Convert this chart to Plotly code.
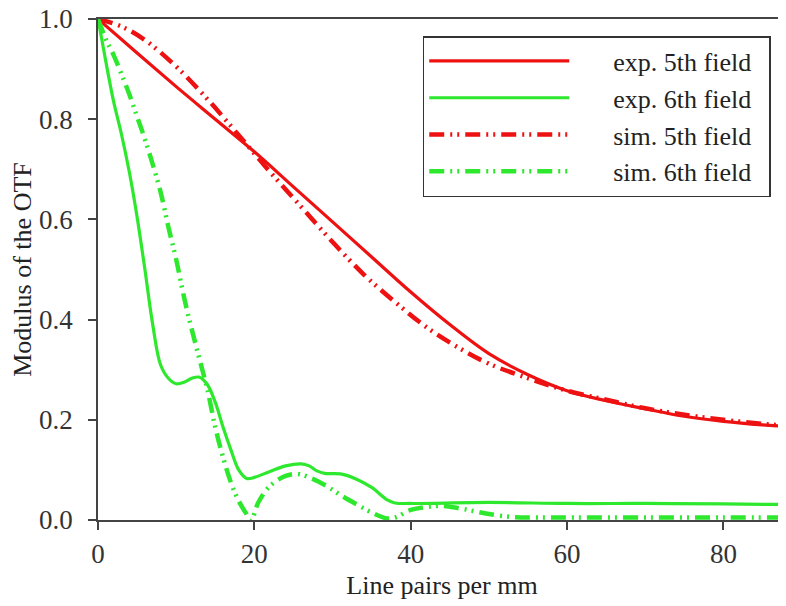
import plotly.graph_objects as go

# ---- data ----
exp5_x = [0, 5, 10, 15, 20, 25, 30, 35, 40, 45, 50, 55, 60, 65, 70, 75, 80, 85, 88]
exp5_y = [1.0, 0.932, 0.865, 0.80, 0.735, 0.665, 0.595, 0.525, 0.455, 0.39, 0.332, 0.29, 0.258, 0.238, 0.222, 0.207, 0.197, 0.19, 0.187]

sim5_x = [0, 3, 6, 10, 14, 18, 22, 26, 30, 34, 38, 42, 46, 50, 55, 60, 65, 70, 75, 80, 85, 88]
sim5_y = [1.0, 0.985, 0.958, 0.905, 0.84, 0.768, 0.695, 0.625, 0.555, 0.49, 0.435, 0.385, 0.345, 0.312, 0.283, 0.258, 0.24, 0.223, 0.21, 0.2, 0.192, 0.188]

exp6_x = [0, 0.5, 1, 2, 3, 4, 5, 6, 7, 8, 9, 10, 11, 12, 13, 14, 15, 16, 17, 18, 19, 20, 22, 24, 26, 27, 28, 29, 31, 33, 35, 37, 38, 40, 50, 60, 70, 80, 88]
exp6_y = [1.0, 0.958, 0.915, 0.835, 0.77, 0.695, 0.605, 0.50, 0.39, 0.31, 0.283, 0.272, 0.275, 0.283, 0.285, 0.27, 0.235, 0.185, 0.14, 0.10, 0.083, 0.085, 0.097, 0.108, 0.112, 0.108, 0.098, 0.093, 0.092, 0.082, 0.065, 0.04, 0.034, 0.033, 0.035, 0.033, 0.033, 0.032, 0.031]

sim6_x = [0, 1, 2, 3, 4, 5, 6, 7, 8, 9, 10, 11, 12, 13, 14, 15, 16, 17, 18, 19, 19.6, 20.5, 22, 24, 25.5, 27, 29, 31, 33, 35, 37, 38, 40, 42, 44, 46, 48, 50, 53, 56, 60, 70, 80, 88]
sim6_y = [1.0, 0.96, 0.928, 0.89, 0.85, 0.805, 0.76, 0.71, 0.655, 0.585, 0.52, 0.445, 0.38, 0.32, 0.26, 0.185, 0.125, 0.075, 0.038, 0.012, 0.0, 0.035, 0.068, 0.088, 0.092, 0.085, 0.07, 0.05, 0.032, 0.015, 0.003, 0.005, 0.02, 0.026, 0.028, 0.024, 0.018, 0.012, 0.006, 0.005, 0.005, 0.005, 0.005, 0.005]

names = ["exp. 5th field", "exp. 6th field", "sim. 5th field", "sim. 6th field"]
x_ticks = [0, 20, 40, 60, 80]
y_ticks = [0.0, 0.2, 0.4, 0.6, 0.8, 1.0]
y_tick_text = ["0.0", "0.2", "0.4", "0.6", "0.8", "1.0"]

RED = "#ee1111"
GREEN = "#2ee82e"
DASH = "15px,6px,2px,5px,2px,6px"
FONT = "Liberation Serif"
GAP = "\u00a0" * 6  # spacing between legend sample line and its label
END = "\u00a0\u00a0"


def label(n):
    return GAP + n + END


fig = go.Figure()
fig.add_trace(go.Scatter(x=exp5_x, y=exp5_y, mode="lines", name=label(names[0]),
                         line=dict(color=RED, width=3.2, shape="spline")))
fig.add_trace(go.Scatter(x=exp6_x, y=exp6_y, mode="lines", name=label(names[1]),
                         line=dict(color=GREEN, width=3.2, shape="spline")))
fig.add_trace(go.Scatter(x=sim5_x, y=sim5_y, mode="lines", name=label(names[2]),
                         line=dict(color=RED, width=4.5, dash=DASH, shape="spline")))
fig.add_trace(go.Scatter(x=sim6_x, y=sim6_y, mode="lines", name=label(names[3]),
                         line=dict(color=GREEN, width=4.5, dash=DASH, shape="spline")))

# the page body adds an 8px offset, so the figure is 8px smaller than the window
fig.update_layout(
    width=778, height=598,
    margin=dict(l=90, r=0, t=11, b=86),
    paper_bgcolor="white", plot_bgcolor="white",
    font=dict(family=FONT, size=26, color="#222"),
    showlegend=True,
    legend=dict(x=0.472, y=0.966, xanchor="left", yanchor="top",
                bgcolor="white", bordercolor="#333", borderwidth=1.5,
                font=dict(family=FONT, size=26, color="#222"),
                itemwidth=140, tracegroupgap=0),
    xaxis=dict(range=[0, 88], tickvals=x_ticks, showgrid=False, zeroline=False,
               automargin=False, ticklabeloverflow="allow",
               showline=True, linecolor="#444", linewidth=1.5, mirror=True,
               ticks="outside", ticklen=8, tickcolor="#444", tickwidth=1.5,
               ticklabelstandoff=1,
               tickfont=dict(family=FONT, size=27, color="#333"),
               title=dict(text="Line pairs per mm", standoff=8,
                          font=dict(family=FONT, size=26, color="#222"))),
    yaxis=dict(range=[0, 1.0], tickvals=y_ticks, ticktext=y_tick_text, showgrid=False,
               automargin=False, ticklabeloverflow="allow",
               zeroline=False, showline=True, linecolor="#444", linewidth=1.5,
               ticks="outside", ticklen=8, tickcolor="#444", tickwidth=1.5,
               ticklabelstandoff=10,
               tickfont=dict(family=FONT, size=27, color="#333"),
               title=dict(text="Modulus of the OTF", standoff=0,
                          font=dict(family=FONT, size=26, color="#222"))),
)

fig.write_html("out.html")
